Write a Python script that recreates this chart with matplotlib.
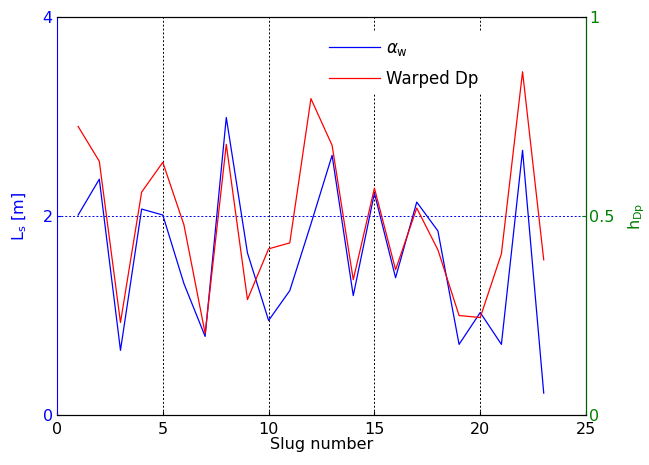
import matplotlib
matplotlib.use("Agg")
import matplotlib.pyplot as plt

# slug data
slug = list(range(1, 24))
alpha_w = [2.01, 2.37, 0.65, 2.07, 2.01, 1.32, 0.79, 2.99, 1.63, 0.95, 1.25, 1.92,
           2.61, 1.20, 2.23, 1.38, 2.14, 1.85, 0.71, 1.03, 0.71, 2.66, 0.22]
warped_dp = [2.90, 2.55, 0.93, 2.24, 2.54, 1.91, 0.82, 2.72, 1.16, 1.67, 1.73, 3.18,
             2.71, 1.36, 2.28, 1.46, 2.08, 1.66, 1.00, 0.98, 1.62, 3.45, 1.56]

left_ticks = [0, 2, 4]
right_ticks = [0, 0.5, 1]
x_ticks = [0, 5, 10, 15, 20, 25]

plt.rcParams["font.family"] = ["DejaVu Sans"]

fig = plt.figure(figsize=(6.49, 4.65), dpi=100)
ax = fig.add_axes([0.0878, 0.1075, 0.8152, 0.8559])

l1, = ax.plot(slug, alpha_w, color="#0000ff", lw=0.9, label=r"$\alpha_\mathregular{w}$")
l2, = ax.plot(slug, warped_dp, color="#ff0000", lw=0.9, label="Warped Dp")

ax.set_xlim(0, 25)
ax.set_ylim(0, 4)
ax.set_xticks(x_ticks)
ax.set_yticks(left_ticks)
ax.tick_params(axis="both", direction="in", length=3, labelsize=11.5)
ax.tick_params(axis="y", colors="#0000ff", pad=3)
ax.tick_params(axis="x", colors="black", pad=5)
ax.spines["left"].set_color("#0000ff")

# grid: black dotted verticals, blue dotted horizontal
ax.xaxis.grid(True, color="black", linestyle=(0, (2, 2)), lw=0.7)
ax.yaxis.grid(True, color="#0000ff", linestyle=(0, (2, 2)), lw=0.7)
ax.set_axisbelow(True)

ax.set_xlabel("Slug number", fontsize=11.5, labelpad=0)
ax.set_ylabel(r"L$_\mathregular{s}$ [m]", color="#0000ff", fontsize=11.5, labelpad=10)

ax2 = ax.twinx()
ax2.set_ylim(0, 1)
ax2.set_yticks(right_ticks)
ax2.set_yticklabels(["0", "0.5", "1"])
ax2.tick_params(axis="y", direction="in", length=3, labelsize=11.5, colors="#008000", pad=2)
ax2.spines["right"].set_color("#006000")
ax2.spines["left"].set_visible(False)
ax2.set_ylabel(r"h$_\mathregular{Dp}$", color="#008000", fontsize=11.5, labelpad=9)

leg = ax2.legend(handles=[l1, l2], loc="upper left", bbox_to_anchor=(0.485, 0.983),
                 fontsize=12, frameon=True, edgecolor="none", facecolor="white",
                 framealpha=1, fancybox=False, handlelength=3.1, handletextpad=0.35,
                 labelspacing=0.72)

fig.savefig("out.png", dpi=100)
